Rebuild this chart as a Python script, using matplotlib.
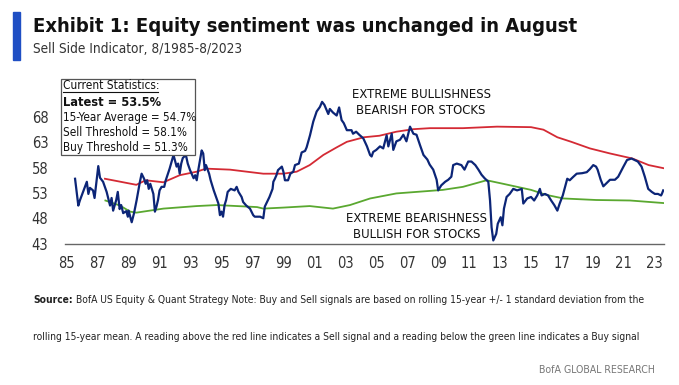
import matplotlib
matplotlib.use('Agg')
import matplotlib.pyplot as plt
from matplotlib.patches import Rectangle
from matplotlib.lines import Line2D

plt.rcParams['font.family'] = ['DejaVu Sans']
plt.rcParams['font.stretch'] = 'condensed'

# Sell Side Indicator (blue), decimal years
ssi_years = [1985.54, 1985.75, 1985.85, 1986.3, 1986.4, 1986.5, 1986.7, 1986.8, 1987.04, 1987.15,
             1987.35, 1987.58, 1987.8, 1987.9, 1988.0, 1988.2, 1988.3, 1988.42, 1988.52, 1988.65,
             1988.85, 1988.95, 1989.0, 1989.2, 1989.35, 1989.52, 1989.73, 1989.84, 1990.0, 1990.1,
             1990.2, 1990.3, 1990.4, 1990.6, 1990.7, 1990.8, 1990.9, 1991.0, 1991.13, 1991.3,
             1991.4, 1991.65, 1991.9, 1992.1, 1992.2, 1992.3, 1992.4, 1992.5, 1992.7, 1992.82,
             1992.97, 1993.2, 1993.3, 1993.4, 1993.5, 1993.72, 1993.82, 1993.92, 1994.0, 1994.2,
             1994.3, 1994.5, 1994.8, 1994.9, 1995.0, 1995.1, 1995.2, 1995.3, 1995.4, 1995.6,
             1995.85, 1995.98, 1996.1, 1996.3, 1996.4, 1996.6, 1996.84, 1997.05, 1997.15, 1997.5,
             1997.7, 1997.8, 1998.1, 1998.3, 1998.35, 1998.45, 1998.55, 1998.65, 1998.9, 1999.0,
             1999.1, 1999.3, 1999.45, 1999.64, 1999.75, 2000.0, 2000.1, 2000.18, 2000.4, 2000.5,
             2000.72, 2000.93, 2001.15, 2001.36, 2001.5, 2001.65, 2001.9, 2002.0, 2002.2, 2002.44,
             2002.6, 2002.76, 2002.9, 2003.1, 2003.4, 2003.5, 2003.7, 2003.9, 2004.16, 2004.4,
             2004.6, 2004.7, 2004.8, 2005.0, 2005.24, 2005.45, 2005.67, 2005.78, 2006.0, 2006.1,
             2006.3, 2006.53, 2006.75, 2006.95, 2007.18, 2007.4, 2007.6, 2007.82, 2008.05, 2008.3,
             2008.45, 2008.68, 2008.9, 2009.0, 2009.2, 2009.45, 2009.65, 2009.85, 2009.97, 2010.2,
             2010.5, 2010.7, 2010.94, 2011.15, 2011.4, 2011.6, 2011.8, 2012.0, 2012.24, 2012.35,
             2012.45, 2012.56, 2012.75, 2012.85, 2013.04, 2013.15, 2013.25, 2013.42, 2013.62, 2013.85,
             2014.1, 2014.4, 2014.5, 2014.75, 2015.0, 2015.2, 2015.4, 2015.57, 2015.68, 2015.9,
             2016.1, 2016.3, 2016.5, 2016.7, 2016.85, 2017.05, 2017.34, 2017.5, 2017.7, 2017.95,
             2018.3, 2018.6, 2018.8, 2019.02, 2019.2, 2019.3, 2019.5, 2019.67, 2019.9, 2020.1,
             2020.42, 2020.63, 2020.97, 2021.2, 2021.49, 2021.7, 2021.9, 2022.14, 2022.35, 2022.57,
             2022.8, 2023.0, 2023.2, 2023.4, 2023.45, 2023.54]
ssi_vals = [55.8, 50.5, 51.5, 55.2, 52.8, 54.0, 53.5, 52.0, 58.3, 56.0,
            55.2, 53.2, 50.5, 52.0, 49.5, 51.6, 53.2, 49.8, 50.6, 49.0,
            49.4, 48.3, 49.5, 47.2, 49.0, 51.6, 55.2, 56.8, 55.8, 54.8,
            55.5, 53.8, 54.8, 52.8, 49.3, 50.3, 51.6, 53.5, 54.2, 54.2,
            55.5, 57.8, 60.5, 58.2, 58.8, 56.8, 58.8, 59.9, 60.5, 58.8,
            57.5, 55.9, 56.5, 55.5, 57.5, 61.4, 60.8, 57.5, 58.5, 56.8,
            55.5, 53.5, 50.9, 48.6, 49.3, 48.3, 50.6, 51.6, 53.2, 53.8,
            53.5, 54.2, 53.2, 52.2, 51.2, 50.5, 49.9, 48.6, 48.3, 48.3,
            48.0, 50.3, 52.2, 53.8, 55.2, 55.8, 56.5, 57.5, 58.2, 57.2,
            55.5, 55.5, 56.8, 57.2, 58.5, 58.8, 60.0, 61.0, 61.3, 62.0,
            64.4, 67.1, 69.1, 70.0, 71.0, 70.4, 68.6, 69.6, 68.9, 68.3,
            69.9, 67.4, 66.8, 65.4, 65.4, 64.7, 65.1, 64.5, 63.8, 62.2,
            60.5, 60.2, 61.1, 61.5, 62.2, 61.8, 64.4, 62.2, 64.7, 61.5,
            63.2, 63.5, 64.5, 63.2, 66.1, 64.7, 64.5, 62.5, 60.5, 59.6,
            58.6, 57.6, 55.6, 53.5, 54.5, 55.2, 55.6, 56.2, 58.5, 58.8,
            58.5, 57.6, 59.2, 59.2, 58.5, 57.6, 56.6, 55.9, 55.2, 51.5,
            46.2, 43.6, 44.9, 46.9, 48.2, 46.6, 49.9, 52.2, 52.8, 53.8,
            53.5, 53.8, 50.9, 51.9, 52.2, 51.5, 52.5, 53.8, 52.5, 52.8,
            52.5, 51.5, 50.6, 49.5, 50.9, 52.5, 55.8, 55.5, 56.1, 56.8,
            56.9, 57.1, 57.7, 58.5, 58.2, 57.6, 55.6, 54.3, 55.0, 55.6,
            55.6, 56.2, 58.2, 59.5, 59.8, 59.5, 59.2, 58.2, 56.2, 53.8,
            53.2, 52.8, 52.8, 52.5, 52.8, 53.5]

# Sell threshold (red)
sell_years = [1987.47, 1989.5, 1990.1, 1991.25, 1992.3, 1993.4, 1994.0, 1995.55, 1997.7, 1999.0,
              1999.86, 2000.7, 2001.58, 2002.44, 2003.1, 2004.2, 2005.2, 2006.3, 2007.4, 2008.47,
              2010.6, 2012.8, 2015.0, 2015.8, 2016.7, 2017.6, 2018.8, 2020.1, 2021.55, 2022.6, 2023.54]
sell_vals = [55.8, 54.6, 55.5, 55.1, 56.5, 57.2, 57.8, 57.6, 56.8, 56.8,
             57.2, 58.5, 60.5, 62.0, 63.1, 64.0, 64.3, 65.1, 65.6, 65.8,
             65.8, 66.1, 66.0, 65.5, 64.0, 63.1, 61.8, 60.8, 59.8, 58.5, 57.9]

# Buy threshold (green)
buy_years = [1987.5, 1988.44, 1989.1, 1989.5, 1991.25, 1993.4, 1994.7, 1996.0, 1997.3, 1997.7,
             1999.0, 2000.7, 2001.6, 2002.2, 2003.3, 2004.6, 2006.3, 2008.47, 2009.3, 2010.6,
             2012.13, 2013.2, 2015.0, 2016.0, 2017.1, 2019.2, 2021.4, 2023.54]
buy_vals = [51.5, 50.5, 49.3, 49.1, 49.9, 50.4, 50.6, 50.4, 50.2, 49.9,
            50.1, 50.4, 50.1, 49.9, 50.6, 51.9, 52.9, 53.4, 53.6, 54.2,
            55.5, 54.8, 53.6, 52.6, 51.9, 51.6, 51.5, 51.0]

tick_years = list(range(1985, 2024, 2))
tick_labels = [str(y)[2:] for y in tick_years]
y_ticks = [43, 48, 53, 58, 63, 68]

stats_lines = ['15-Year Average = 54.7%', 'Sell Threshold = 58.1%', 'Buy Threshold = 51.3%']

W, H = 679, 385


def fx(px):
    return px / W


def fy(py):
    return 1 - py / H


fig = plt.figure(figsize=(W / 100, H / 100), dpi=100)
ax = fig.add_axes([fx(65), fy(243.5), (664 - 65) / W, (243.5 - 96.8) / H])

ax.plot(sell_years, sell_vals, color='#d42a34', lw=1.3)
ax.plot(buy_years, buy_vals, color='#5aa830', lw=1.3)
ax.plot(ssi_years, ssi_vals, color='#0c2577', lw=1.6)

ax.set_xlim(1984.89, 2023.59)
ax.set_ylim(43, 72)
ax.set_xticks(tick_years)
ax.set_xticklabels(tick_labels)
ax.set_yticks(y_ticks)
ax.tick_params(axis='both', length=0, labelsize=10.5, colors='#333333')
ax.tick_params(axis='x', pad=9)
ax.tick_params(axis='y', pad=12)
for s in ['top', 'right', 'left']:
    ax.spines[s].set_visible(False)
ax.spines['bottom'].set_color('#666666')
ax.spines['bottom'].set_linewidth(1.0)

ax.text(2007.9, 70.9, 'EXTREME BULLISHNESS\nBEARISH FOR STOCKS', ha='center', va='center',
        fontsize=9.4, color='#111111', linespacing=1.3)
ax.text(2007.6, 46.4, 'EXTREME BEARISHNESS\nBULLISH FOR STOCKS', ha='center', va='center',
        fontsize=9.4, color='#111111', linespacing=1.3)

# title block
fig.patches.append(Rectangle((fx(12.7), fy(60)), 7.3 / W, 48 / H, transform=fig.transFigure,
                             color='#1f4fc4', zorder=3))
fig.text(fx(33), fy(26), 'Exhibit 1: Equity sentiment was unchanged in August', fontsize=14.5,
         fontweight='bold', va='center', ha='left', color='#111111')
fig.text(fx(33), fy(49), 'Sell Side Indicator, 8/1985-8/2023', fontsize=9.8,
         va='center', ha='left', color='#333333')

# current statistics box
fig.patches.append(Rectangle((fx(60.7), fy(155)), (195 - 60.7) / W, (155 - 78.5) / H,
                             transform=fig.transFigure, facecolor='white', edgecolor='#555555',
                             lw=0.9, zorder=5))
fig.text(fx(63), fy(85.5), 'Current Statistics:', fontsize=8.6, va='center', ha='left',
         color='#111111', zorder=6)
fig.lines.append(Line2D([fx(63), fx(158)], [fy(92), fy(92)], transform=fig.transFigure,
                        color='#111111', lw=0.8, zorder=6))
fig.text(fx(63), fy(102.5), 'Latest = 53.5%', fontsize=9.2, fontweight='bold', va='center',
         ha='left', color='#111111', zorder=6)
for i, line in enumerate(stats_lines):
    fig.text(fx(63), fy(117.5 + i * 14.8), line, fontsize=8.35, va='center', ha='left',
             color='#111111', zorder=6)

# footnotes
fig.canvas.draw()
src = fig.text(fx(33), fy(300), 'Source:', fontsize=7.35, fontweight='bold', va='center',
               ha='left', color='#222222')
src_w = src.get_window_extent(fig.canvas.get_renderer()).width
fig.text(fx(33 + src_w + 3), fy(300), 'BofA US Equity & Quant Strategy Note: Buy and Sell signals '
         'are based on rolling 15-year +/- 1 standard deviation from the',
         fontsize=7.35, va='center', ha='left', color='#222222')
fig.text(fx(33), fy(337), 'rolling 15-year mean. A reading above the red line indicates a Sell signal '
         'and a reading below the green line indicates a Buy signal',
         fontsize=7.35, va='center', ha='left', color='#222222')
fig.text(fx(655), fy(370), 'BofA GLOBAL RESEARCH', fontsize=7.6, va='center', ha='right',
         color='#777777')

fig.savefig('out.png', dpi=100)
